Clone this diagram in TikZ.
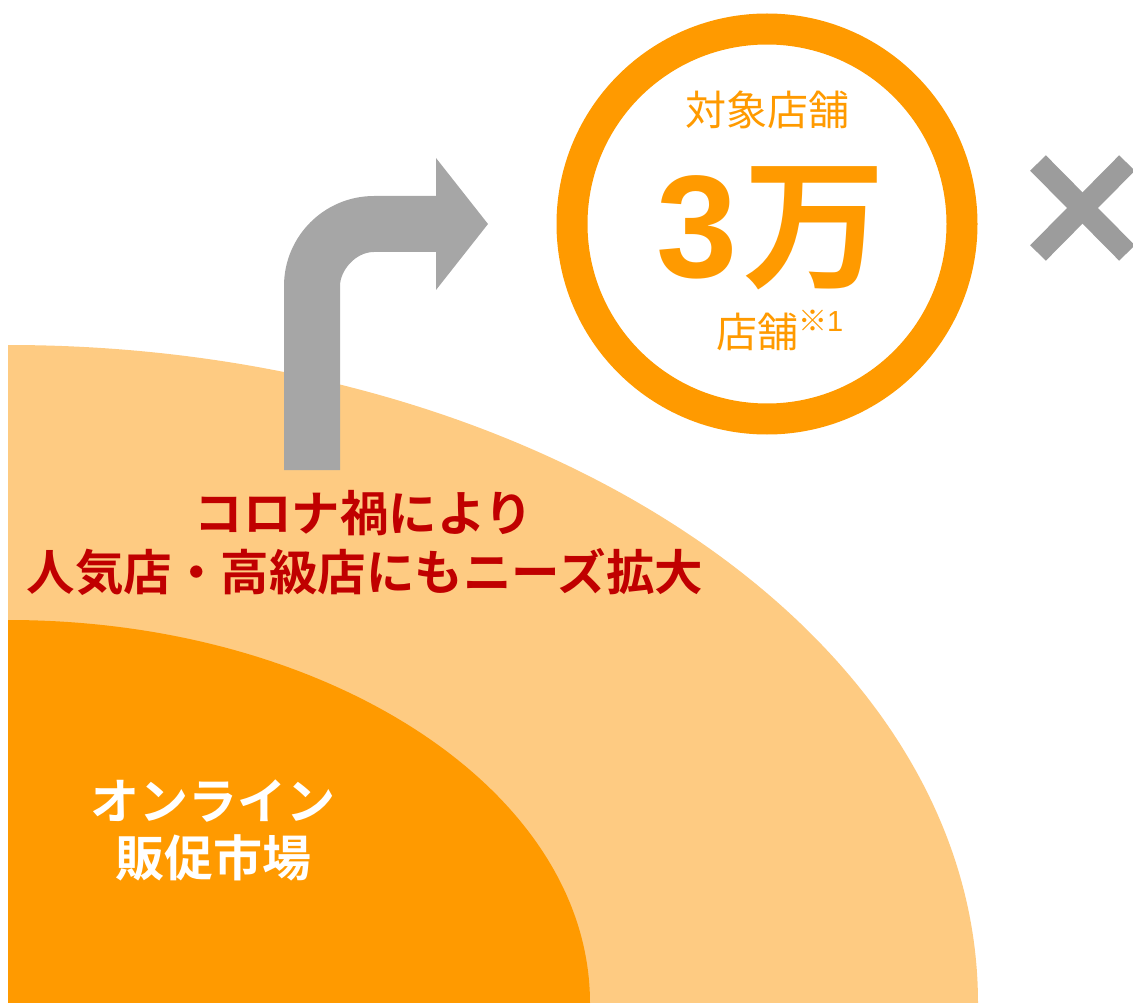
\documentclass[tikz,border=0pt]{standalone}
\usepackage{fontspec}
\newfontfamily\jp{Noto Sans CJK JP}[BoldFont={Noto Sans CJK JP Bold}]
\newfontfamily\arial{Liberation Sans}
\definecolor{lightor}{HTML}{FECB82}
\definecolor{darkor}{HTML}{FF9A00}
\definecolor{redtxt}{HTML}{C00000}
\definecolor{arrowgray}{HTML}{A6A6A6}
\definecolor{xgray}{HTML}{9C9C9C}
\tikzset{
  redlabel/.style={text=redtxt, font=\jp\bfseries\fontsize{48.5}{56}\selectfont, inner sep=0pt},
  whitelabel/.style={text=white, font=\jp\bfseries\fontsize{49}{56}\selectfont, inner sep=0pt},
  orlabel/.style={text=darkor, font=\jp\fontsize{41}{48}\selectfont, inner sep=0pt},
}
\begin{document}
\begin{tikzpicture}[x=1pt,y=-1pt]
\useasboundingbox (0,0) rectangle (1133,1003);
\begin{scope}
\clip (8,0) rectangle (1133,1003);
\fill[lightor] (8,1003) ellipse[x radius=970, y radius=658];
\fill[darkor] (8,1003) ellipse[x radius=582, y radius=383];
\end{scope}
% bent arrow
\fill[arrowgray] (284,470) -- (284,286) .. controls (284,236.3) and (324.3,196) .. (374,196)
  -- (436,196) -- (436,158) -- (488,224) -- (436,290) -- (436,252) -- (374,252)
  .. controls (355.2,252) and (340,270.8) .. (340,286) -- (340,470) -- cycle;
% ring
\draw[darkor, line width=31] (767,224) circle[radius=195];
\node[orlabel] (target) at (767,110) {対象店舗};
\node[text=darkor, font=\jp\bfseries\fontsize{142}{150}\selectfont, inner sep=0pt] (num) at (771,228) {{\arial\bfseries\fontsize{146}{150}\selectfont 3}\hspace{6pt}万};
\node[orlabel, anchor=base west] (unit) at (716,347) {店舗\raisebox{16pt}{\fontsize{29}{30}\selectfont ※\arial 1}};
% cross
\draw[xgray, line width=22] (1038,163) -- (1127,253);
\draw[xgray, line width=22] (1127,163) -- (1038,253);
\coordinate (xc) at (1082,208);
% texts
\node[redlabel] (l1) at (364,513) {コロナ禍により};
\node[redlabel] (l2) at (365,572) {人気店・高級店にもニーズ拡大};
\node[whitelabel] (w1) at (213,801) {オンライン};
\node[whitelabel] (w2) at (213,858) {販促市場};
\end{tikzpicture}
\end{document}
